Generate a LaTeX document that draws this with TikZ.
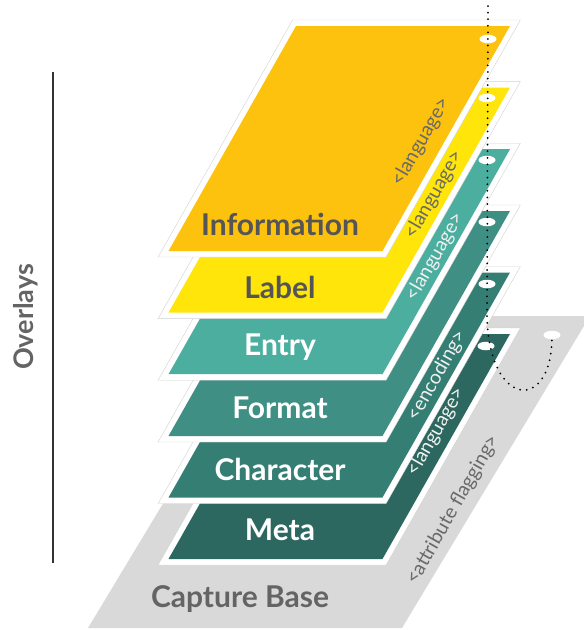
\documentclass[tikz,border=0pt]{standalone}
\usepackage{fontspec}
\setmainfont{Lato}
\usetikzlibrary{shapes.geometric}
\definecolor{cInfo}{RGB}{253,194,14}
\definecolor{cLabel}{RGB}{255,229,10}
\definecolor{cEntry}{RGB}{75,174,159}
\definecolor{cFormat}{RGB}{63,143,132}
\definecolor{cChar}{RGB}{53,126,116}
\definecolor{cMeta}{RGB}{45,104,96}
\definecolor{cBase}{RGB}{217,217,217}
\definecolor{txtDark}{RGB}{85,85,85}
\definecolor{txtBase}{RGB}{100,100,100}
\definecolor{tagGray}{RGB}{105,105,105}
\definecolor{tagLight}{RGB}{240,240,240}
\tikzset{
  plate/.style={fill=white, draw=black!18, line width=0.4pt},
  layertext/.style={font=\fontsize{30}{30}\selectfont\bfseries, anchor=center, inner sep=0pt},
  tag/.style={font=\fontsize{19.5}{19.5}\selectfont, rotate=60.5, anchor=center, inner sep=0pt},
  hole/.style={ellipse, fill=white, minimum width=17pt, minimum height=8.5pt, inner sep=0pt},
  dotline/.style={line width=2pt, dash pattern=on 0pt off 6.6pt, line cap=round, black},
}
\newcommand\drawlayer[2]{%
  \path[plate] ({292.6},{#1-6}) -- ({520.4},{#1-6}) -- ({386.1},{#1+231}) -- ({158.1},{#1+231}) -- cycle;
  \fill[#2] ({296},{#1}) -- ({510},{#1}) -- ({382.5},{#1+225}) -- ({168.5},{#1+225}) -- cycle;
}
\begin{document}
\begin{tikzpicture}[x=1pt,y=-1pt]
\useasboundingbox (0,0) rectangle (584,630);
\clip (0,0) rectangle (584,630);
% capture base
\fill[cBase] (88,628) -- (402,628) -- (590,316) -- (276,316) -- cycle;
% layers, back to front
\drawlayer{334}{cMeta}
\drawlayer{272.5}{cChar}
\drawlayer{211}{cFormat}
\drawlayer{149.2}{cEntry}
\drawlayer{87.6}{cLabel}
\drawlayer{26}{cInfo}
% left bracket line and title
\draw[line width=1.3pt, black!80] (53,72) coordinate (lt) -- (53,563) coordinate (lb);
\node[font=\fontsize{27}{27}\selectfont\bfseries, text=txtBase, rotate=90, inner sep=0pt] (ovl) at (26,317) {Overlays};
% layer names
\node[layertext, text=txtDark] (nInfo) at (280,224) {Information};
\node[layertext, text=txtDark] (nLabel) at (280,287) {Label};
\node[layertext, text=white] (nEntry) at (280,347) {Entry};
\node[layertext, text=white] (nFormat) at (280,408) {Format};
\node[layertext, text=white] (nChar) at (280,469) {Character};
\node[layertext, text=white] (nMeta) at (280,530) {Meta};
\node[layertext, text=txtBase] (nBase) at (240,599) {Capture Base};
% tags along the edges
\node[tag, text=tagGray] (tInfo) at (421,142) {<language>};
\node[tag, text=tagGray] (tLabel) at (434,195) {<language>};
\node[tag, text=tagLight] (tEntry) at (435,257) {<language>};
\node[tag, text=tagLight] (tChar) at (437,376) {<encoding>};
\node[tag, text=tagLight] (tMeta) at (436,432) {<language>};
\node[tag, text=tagGray] (tBase) at (453,510) {<attribute flagging>};
% holes
\node[hole] (e1) at (488,39) {};
\node[hole] (e2) at (487,98) {};
\node[hole] (e3) at (487,160) {};
\node[hole] (e4) at (487,222) {};
\node[hole] (e5) at (487,284) {};
\node[hole] (e6) at (486,346) {};
\node[hole] (eB) at (552,335) {};
% dotted thread
\coordinate (top) at (488,6);
\coordinate (bend) at (487,318);
\draw[dotline] (top) -- (bend) .. controls (490,410) and (553,412) .. (eB.center);
\end{tikzpicture}
\end{document}
